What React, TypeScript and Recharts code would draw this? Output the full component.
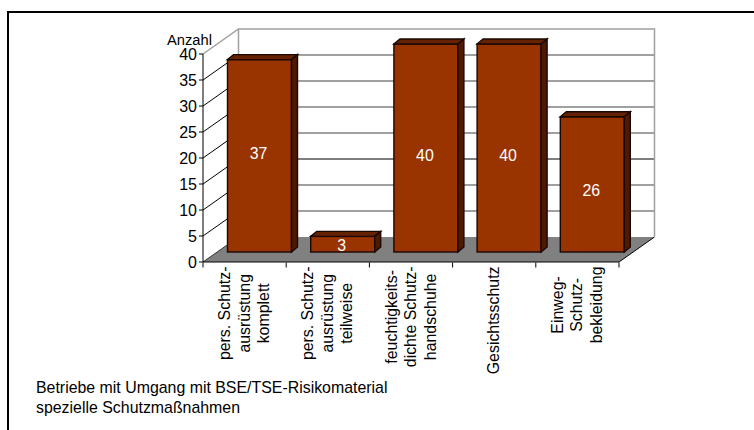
import { Bar, BarChart, CartesianGrid, LabelList, XAxis, YAxis, usePlotArea } from "recharts";

const categories = [
  ["pers. Schutz-", "ausrüstung", "komplett"],
  ["pers. Schutz-", "ausrüstung", "teilweise"],
  ["feuchtigkeits-", "dichte Schutz-", "handschuhe"],
  ["Gesichtsschutz"],
  ["Einweg-", "Schutz-", "bekleidung"],
];
const values = [37, 3, 40, 40, 26];
const yTicks = [0, 5, 10, 15, 20, 25, 30, 35, 40];
const yLabel = "Anzahl";
const captionLines = ["Betriebe mit Umgang mit BSE/TSE-Risikomaterial", "spezielle Schutzmaßnahmen"];
// the value labels are not centred on their bars in the original
const labelShift = [-2, 1, 7, 7, 6];

const data = categories.map((lines, i) => ({ name: lines.join(" "), value: values[i], lines }));

const FONT = "'Liberation Sans', Arial, sans-serif";
const TEXT_SIZE = 15.9;
const WALL_DX = 35.5;
const WALL_DY = 25;
const BAR_DX = 14.5;
const BAR_DY = 10;
const DEPTH_X = 6;
const DEPTH_Y = 5;

function textWidth(text: string) {
  const ctx = document.createElement("canvas").getContext("2d");
  if (!ctx) return text.length * 7;
  ctx.font = `${TEXT_SIZE}px 'Liberation Sans'`;
  return ctx.measureText(text).width;
}

// back wall and floor of the fake 3d box
function Walls() {
  const plot = usePlotArea();
  if (!plot) return null;
  const { x, y, width, height } = plot;
  const bottom = y + height;
  const right = x + width;
  return (
    <g>
      <polygon
        points={`${x},${bottom} ${right},${bottom} ${right + WALL_DX},${bottom - WALL_DY} ${x + WALL_DX},${bottom - WALL_DY}`}
        fill="#808080"
      />
      <line x1={x} y1={bottom} x2={x + WALL_DX} y2={bottom - WALL_DY} stroke="#333" />
      <line x1={right} y1={bottom} x2={right + WALL_DX} y2={bottom - WALL_DY} stroke="#000" />
      <polyline
        points={`${x},${y} ${x + WALL_DX},${y - WALL_DY} ${right + WALL_DX},${y - WALL_DY} ${right + WALL_DX},${bottom - WALL_DY}`}
        fill="none"
        stroke="#a0a0a0"
        strokeWidth={1.5}
      />
      <line x1={x + WALL_DX} y1={y - WALL_DY} x2={x + WALL_DX} y2={bottom - WALL_DY} stroke="#a0a0a0" strokeWidth={1.5} />
    </g>
  );
}

function gridLine(props: any) {
  const { x1, x2, y1, index } = props;
  const level = Math.round((262 - y1) / 5.2);
  if (level === 0) return <g key={`grid-${index}`} />;
  return (
    <g key={`grid-${index}`}>
      {level !== 40 && <line x1={x1} y1={y1} x2={x1 + WALL_DX} y2={y1 - WALL_DY} stroke="#000" />}
      {level !== 40 && (
        <line
          x1={x1 + WALL_DX}
          y1={y1 - WALL_DY}
          x2={x2 + WALL_DX}
          y2={y1 - WALL_DY}
          stroke={level === 15 ? "#000" : "#808080"}
          strokeWidth={level === 15 ? 1 : 1.5}
        />
      )}
    </g>
  );
}

function Bar3D(props: any) {
  const { x, y, width, height } = props;
  const left = x + BAR_DX;
  const top = y - BAR_DY;
  const right = left + width;
  const bottom = top + height;
  return (
    <g stroke="#1a0800" strokeWidth={1.4} strokeLinejoin="miter">
      <rect x={left} y={top} width={width} height={height} fill="#993300" />
      <polygon
        points={`${left},${top} ${left + DEPTH_X},${top - DEPTH_Y} ${right + DEPTH_X},${top - DEPTH_Y} ${right},${top}`}
        fill="#662200"
      />
      <polygon
        points={`${right},${top} ${right + DEPTH_X},${top - DEPTH_Y} ${right + DEPTH_X},${bottom - DEPTH_Y} ${right},${bottom}`}
        fill="#4d1a00"
      />
    </g>
  );
}

function ValueLabel(props: any) {
  const { x, y, width, height, value, index } = props;
  return (
    <text
      x={x + BAR_DX + width / 2 - 1}
      y={y - BAR_DY + height / 2 + 5.5 + labelShift[index]}
      fill="#fff"
      fontSize={TEXT_SIZE}
      fontFamily={FONT}
      textAnchor="middle"
    >
      {value}
    </text>
  );
}

function CategoryTick(props: any) {
  const { x, y, index } = props;
  const plot = usePlotArea();
  const band = plot ? plot.width / categories.length : 83.2;
  const lines = categories[index];
  // lines are centred on each other, the block hangs from the same top edge
  const longest = Math.max(...lines.map(textWidth));
  const mid = (lines.length - 1) / 2;
  const axisY = y - 7.5;
  return (
    <g>
      <line x1={x - band / 2} y1={axisY} x2={x - band / 2} y2={axisY + 5} stroke="#000" />
      {index === categories.length - 1 && (
        <line x1={x + band / 2} y1={axisY} x2={x + band / 2} y2={axisY + 5} stroke="#000" />
      )}
      {lines.map((line, i) => (
        <text
          key={line}
          transform={`translate(${x + (i - mid) * 19.5 + 5},${y - 3.5 + longest / 2}) rotate(-90)`}
          fontSize={TEXT_SIZE}
          fontFamily={FONT}
          fill="#000"
          textAnchor="middle"
        >
          {line}
        </text>
      ))}
    </g>
  );
}

export default function App() {
  return (
    <div style={{ position: "absolute", left: 0, top: 0, width: 754, height: 430, background: "#fff", overflow: "hidden" }}>
      <div
        style={{
          position: "absolute",
          left: 7,
          top: 11,
          width: 760,
          height: 440,
          borderLeft: "2px solid #000",
          borderTop: "2px solid #000",
        }}
      />
      <BarChart
        width={754}
        height={430}
        data={data}
        margin={{ left: 203 - 60, right: 754 - 619, top: 54, bottom: 430 - 262 - 100 }}
        barSize={64}
        style={{ position: "absolute", left: 0, top: 0 }}
      >
        <Walls />
        <CartesianGrid vertical={false} horizontal={gridLine} />
        <YAxis
          domain={[0, 40]}
          ticks={yTicks}
          width={60}
          interval={0}
          axisLine={{ stroke: "#000" }}
          tickLine={{ stroke: "#000" }}
          tickSize={4}
          tick={{ fontSize: 16, fontFamily: FONT, fill: "#000" }}
        />
        <XAxis
          dataKey="name"
          height={100}
          interval={0}
          axisLine={{ stroke: "#000" }}
          tickLine={false}
          tick={<CategoryTick />}
        />
        <Bar dataKey="value" shape={<Bar3D />} isAnimationActive={false}>
          <LabelList dataKey="value" content={<ValueLabel />} />
        </Bar>
        <text x={167} y={45} fontSize={14.7} fontFamily={FONT} fill="#000">
          {yLabel}
        </text>
        {captionLines.map((line, i) => (
          <text key={line} x={36} y={393 + i * 20} fontSize={TEXT_SIZE} fontFamily={FONT} fill="#000">
            {line}
          </text>
        ))}
      </BarChart>
    </div>
  );
}
